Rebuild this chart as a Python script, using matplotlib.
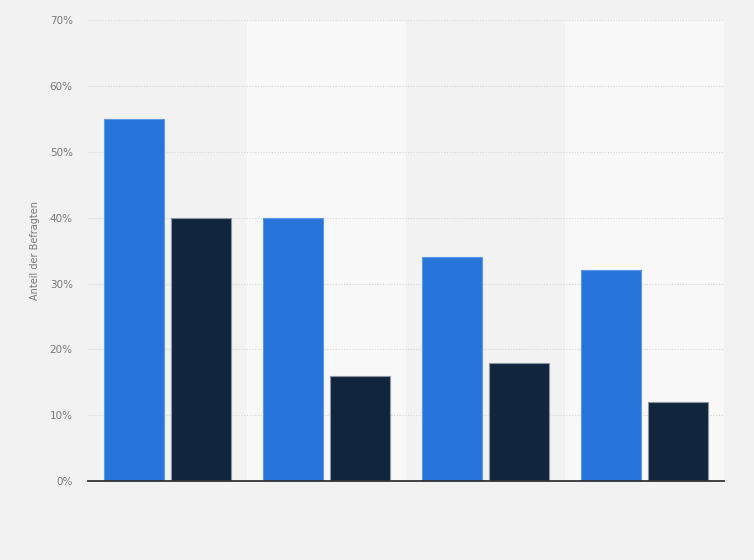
import numpy as np
import matplotlib.pyplot as plt

# Werte (in Prozent)
groups = ['', '', '', '']
series_a = [55, 40, 34, 32]
series_b = [40, 16, 18, 12]
ytick_vals = [0, 10, 20, 30, 40, 50, 60, 70]

fig = plt.figure(figsize=(7.54, 5.6), dpi=100, facecolor='#f2f2f2')
ax = fig.add_axes([0.1167, 0.141, 0.8435, 0.823])
ax.set_facecolor('#f2f2f2')

x = np.arange(len(groups))

# abwechselnde Hintergrundstreifen
for i in x:
    if i % 2 == 1:
        ax.axvspan(i - 0.5, i + 0.5, color='#f8f8f8', zorder=0, lw=0)

ax.bar(x - 0.21, series_a, width=0.375, color='#2775db', edgecolor='#5c98e6',
       linewidth=0.8, zorder=3)
ax.bar(x + 0.21, series_b, width=0.375, color='#11263d', edgecolor='#8a96a3',
       linewidth=0.8, zorder=3)

ax.set_xlim(-0.5, 3.5)
ax.set_ylim(0, 70)
ax.set_yticks(ytick_vals)
ax.set_yticklabels([f'{v}%' for v in ytick_vals], fontsize=7.5, color='#777777')
ax.set_xticks([])

ax.yaxis.grid(True, linestyle=(0, (1, 1.5)), color='#d4d4d4', linewidth=0.8, zorder=1)
ax.tick_params(axis='y', length=0, pad=11)

for s in ['top', 'right', 'left']:
    ax.spines[s].set_visible(False)
ax.spines['bottom'].set_color('#333333')
ax.spines['bottom'].set_linewidth(1.3)
ax.spines['bottom'].set_zorder(4)

ax.set_ylabel('Anteil der Befragten', fontsize=7, color='#777777')
ax.yaxis.set_label_coords(-0.075, 0.5)

fig.savefig('out.png', dpi=100, facecolor=fig.get_facecolor())
